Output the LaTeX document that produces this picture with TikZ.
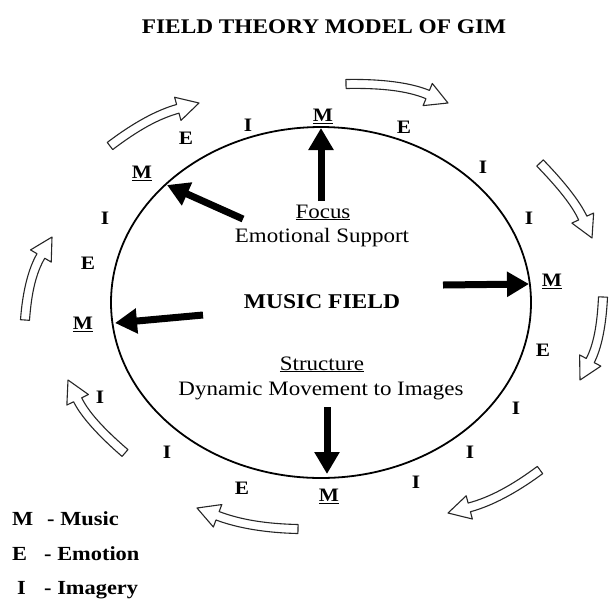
\documentclass[tikz,border=0pt]{standalone}
\usepackage{fontspec}
\setmainfont{Liberation Serif}[FakeStretch=1.12]
\usetikzlibrary{calc,arrows.meta,shapes.geometric}
\newcommand\hollowarrow[3]{%
  \coordinate (hT) at #1; \coordinate (hC) at #2; \coordinate (hP) at #3;
  \coordinate (hB) at ($(hP)!22pt!(hC)$);
  \coordinate (hT1) at ($(hT)!4.5pt!90:(hC)$);
  \coordinate (hT2) at ($(hT)!4.5pt!-90:(hC)$);
  \coordinate (hB1) at ($(hB)!4.5pt!-90:(hC)$);
  \coordinate (hB2) at ($(hB)!4.5pt!90:(hC)$);
  \coordinate (hH1) at ($(hB)!12pt!-90:(hC)$);
  \coordinate (hH2) at ($(hB)!12pt!90:(hC)$);
  \draw[hollow] (hT1) .. controls ($(hT1)+0.667*(hC)-0.667*(hT)$) and ($(hB1)+0.667*(hC)-0.667*(hB)$) .. (hB1)
     -- (hH1) -- (hP) -- (hH2) -- (hB2)
     .. controls ($(hB2)+0.667*(hC)-0.667*(hB)$) and ($(hT2)+0.667*(hC)-0.667*(hT)$) .. (hT2) -- cycle;
}
\begin{document}
\begin{tikzpicture}[x=1pt,y=-1pt,
  lab/.style={font=\fontsize{19}{20}\selectfont\bfseries, anchor=base, inner sep=0pt},
  body/.style={font=\fontsize{20.5}{22}\selectfont, anchor=base, inner sep=0pt},
  bodybf/.style={font=\fontsize{21}{22}\selectfont\bfseries, anchor=base, inner sep=0pt},
  leg/.style={font=\fontsize{20}{22}\selectfont\bfseries, anchor=base west, inner sep=0pt},
  bigarrow/.style={line width=7pt, -{Triangle[length=22pt,width=24pt]}},
  hollow/.style={line width=1.1pt, draw=black!85, fill=white, line join=round}]
\useasboundingbox (0,0) rectangle (610,598);

% title
\node[font=\fontsize{20.8}{24}\selectfont\bfseries, anchor=base, inner sep=0pt] (title) at (324,33) {FIELD THEORY MODEL OF GIM};

% music field ellipse
\node[draw, ellipse, line width=1.8pt, minimum width=420pt, minimum height=351pt, inner sep=0pt] (field) at (321,302.5) {};

% inner texts
\node[body] (focus) at (323,218) {\underline{Focus}};
\node[body] (emo) at (322,242) {Emotional Support};
\node[bodybf] (mf) at (322,308) {MUSIC FIELD};
\node[body] (struct) at (322,370) {\underline{Structure}};
\node[body] (dyn) at (321,395) {Dynamic Movement to Images};

% black arrows
\coordinate (aUs) at (321,201); \coordinate (aUe) at (321,128);
\coordinate (aULs) at (243,219); \coordinate (aULe) at (167,185);
\coordinate (aRs) at (443,285); \coordinate (aRe) at (529,284);
\coordinate (aLs) at (203,315); \coordinate (aLe) at (115,323);
\coordinate (aDs) at (327,407); \coordinate (aDe) at (327,474);
\draw[bigarrow] (aUs) -- (aUe);
\draw[bigarrow] (aULs) -- (aULe);
\draw[bigarrow] (aRs) -- (aRe);
\draw[bigarrow] (aLs) -- (aLe);
\draw[bigarrow] (aDs) -- (aDe);

% labels around the field
\node[lab] (mT) at (323,121.5) {\underline{M}};
\node[lab] (iT1) at (248,131.5) {I};
\node[lab] (eT1) at (186,144.5) {E};
\node[lab] (mTL) at (142,178.5) {\underline{M}};
\node[lab] (eT2) at (404,133.5) {E};
\node[lab] (iT2) at (483,173.5) {I};
\node[lab] (iL1) at (105,224.5) {I};
\node[lab] (eL) at (88,269.5) {E};
\node[lab] (mL) at (83,329.5) {\underline{M}};
\node[lab] (iR1) at (529,224.5) {I};
\node[lab] (mR) at (552,286.5) {\underline{M}};
\node[lab] (eR) at (543,356.5) {E};
\node[lab] (iL2) at (100,403.5) {I};
\node[lab] (iR2) at (516,414.5) {I};
\node[lab] (iB1) at (167,458.5) {I};
\node[lab] (eB) at (242,494.5) {E};
\node[lab] (mB) at (329,501.5) {\underline{M}};
\node[lab] (iB2) at (416,488.5) {I};
\node[lab] (iB3) at (470,458.5) {I};

% hollow circulating arrows
\hollowarrow{(110,146)}{(148,117)}{(199,103)}
\hollowarrow{(346,84)}{(400,83)}{(448,103)}
\hollowarrow{(540,163)}{(573,197)}{(592,238)}
\hollowarrow{(603,297)}{(601,340)}{(580,380)}
\hollowarrow{(540,470)}{(501,499)}{(448,513)}
\hollowarrow{(298,529)}{(250,528)}{(197,508)}
\hollowarrow{(125,453)}{(88,421)}{(68,380)}
\hollowarrow{(25,320)}{(28,278)}{(52,237)}

% legend
\node[leg] (lm) at (12,525) {M};
\node[leg] (lmt) at (47,525) {- Music};
\node[leg] (le) at (12,560) {E};
\node[leg] (let) at (44,560) {- Emotion};
\node[leg] (li) at (17,594) {I};
\node[leg] (lit) at (44,594) {- Imagery};
\end{tikzpicture}
\end{document}
